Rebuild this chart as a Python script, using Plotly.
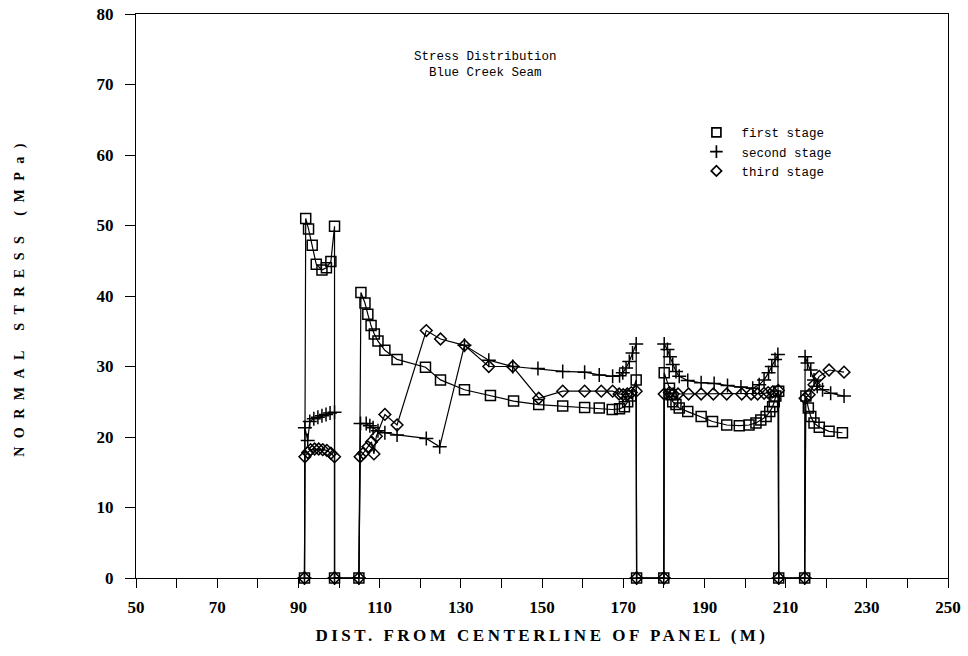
import plotly.graph_objects as go

# ---- data ----
first_x = [91.5, 91.8, 92.5, 93.4, 94.4, 95.8, 96.9, 98.0, 98.9, 98.9,
           104.9, 105.4, 106.4, 107.1, 107.9, 108.7, 109.6, 111.3, 114.3, 121.3, 125.0, 130.9,
           137.3, 143.0, 149.2, 155.1, 160.5, 164.1, 167.3, 169.1, 170.3, 171.1, 171.9, 173.2, 173.3,
           180.0, 180.1, 181.4, 181.8, 182.2, 183.0, 183.8, 185.9, 189.2, 192.0, 195.5, 198.6,
           201.0, 202.7, 203.9, 205.2, 206.1, 206.8, 207.2, 207.6, 208.3, 208.3,
           214.7, 215.0, 215.6, 216.2, 217.0, 218.3, 220.7, 224.0]
first_y = [0, 51.0, 49.5, 47.2, 44.5, 43.7, 44.0, 44.9, 49.9, 0,
           0, 40.5, 39.0, 37.4, 35.8, 34.6, 33.6, 32.3, 31.0, 29.9, 28.1, 26.7,
           25.9, 25.1, 24.6, 24.4, 24.2, 24.1, 23.9, 24.0, 24.3, 25.0, 25.8, 28.1, 0,
           0, 29.1, 26.9, 26.0, 25.0, 24.6, 24.1, 23.6, 22.9, 22.2, 21.7, 21.6,
           21.7, 22.0, 22.4, 22.9, 23.6, 24.3, 25.0, 25.8, 26.5, 0,
           0, 25.8, 24.1, 22.9, 22.0, 21.4, 20.8, 20.6]

second_x = [91.5, 91.6, 92.3, 92.8, 93.8, 94.8, 95.8, 96.8, 97.8, 98.9, 98.9,
            104.9, 105.3, 106.7, 107.6, 108.4, 109.6, 111.3, 114.3, 121.5, 124.8, 130.9, 136.9,
            142.8, 149.0, 155.1, 160.5, 164.1, 167.4, 169.1, 169.9, 170.7, 171.5, 172.3, 173.2, 173.3,
            180.0, 180.1, 180.9, 181.5, 182.2, 183.0, 183.8, 185.9, 189.2, 192.4, 195.7, 199.0,
            201.9, 203.5, 204.7, 205.8, 206.6, 207.4, 208.1, 208.3,
            214.7, 214.8, 215.4, 216.2, 217.0, 217.8, 219.1, 221.1, 224.4]
second_y = [0, 21.3, 19.5, 22.2, 22.6, 22.8, 23.0, 23.2, 23.4, 23.5, 0,
            0, 21.9, 21.9, 21.6, 21.3, 20.9, 20.6, 20.3, 19.8, 18.6, 33.0, 30.9,
            30.0, 29.7, 29.3, 29.2, 28.8, 28.6, 28.7, 29.1, 29.8, 30.7, 31.9, 33.2, 0,
            0, 33.2, 32.4, 31.4, 30.3, 29.3, 28.6, 28.0, 27.7, 27.6, 27.3, 27.1,
            26.9, 27.4, 28.1, 29.1, 30.0, 31.0, 31.7, 0,
            0, 31.4, 30.5, 29.5, 28.1, 27.2, 26.7, 26.2, 25.8]

third_x = [91.5, 91.6, 92.3, 93.0, 94.0, 95.0, 96.0, 97.0, 98.0, 98.9, 98.9,
           104.9, 105.2, 106.0, 107.1, 108.0, 108.6, 109.2, 111.3, 114.3, 121.5, 125.0, 130.9,
           136.9, 142.8, 149.2, 155.1, 160.5, 164.6, 167.4, 169.0, 170.0, 171.0, 172.0, 173.2, 173.3,
           180.0, 180.1, 181.4, 182.3, 183.5, 186.1, 189.2, 192.2, 195.5, 199.2, 201.5, 203.1,
           204.7, 205.7, 206.8, 208.2, 208.3,
           214.7, 214.8, 215.8, 217.0, 218.3, 220.7, 224.4]
third_y = [0, 17.2, 17.8, 18.2, 18.3, 18.3, 18.2, 18.1, 17.7, 17.2, 0,
           0, 17.2, 17.7, 18.6, 19.3, 17.6, 20.1, 23.2, 21.7, 35.1, 33.9, 33.0,
           30.0, 30.0, 25.5, 26.5, 26.5, 26.5, 26.5, 26.1, 26.0, 26.1, 26.3, 26.5, 0,
           0, 26.1, 26.3, 26.1, 26.1, 26.1, 26.1, 26.1, 26.1, 26.1, 26.1, 26.1,
           26.2, 26.3, 26.4, 26.6, 0,
           0, 25.5, 26.0, 27.4, 28.6, 29.5, 29.2]

series_names = ["first stage", "second stage", "third stage"]
x_ticks = list(range(50, 251, 20))
x_minor = list(range(60, 250, 20))
y_ticks = list(range(0, 81, 10))

# ---- figure ----
symbols = ["square-open", "cross-thin-open", "diamond-open"]
sizes = [10, 10, 9]
data = [(first_x, first_y), (second_x, second_y), (third_x, third_y)]

fig = go.Figure()
for (xs, ys), sym, sz in zip(data, symbols, sizes):
    fig.add_trace(go.Scatter(
        x=xs, y=ys, mode="lines+markers", showlegend=False, cliponaxis=False,
        line=dict(color="black", width=1.2),
        marker=dict(symbol=sym, size=sz, color="black",
                    line=dict(color="black", width=1.5)),
    ))
for name, sym, sz in zip(series_names, symbols, sizes):
    fig.add_trace(go.Scatter(
        x=[None], y=[None], mode="markers", name=name,
        marker=dict(symbol=sym, size=sz - 1, color="black",
                    line=dict(color="black", width=1.7)),
    ))

axis_common = dict(showline=True, linecolor="black", linewidth=1.2, mirror=True,
                   showgrid=False, zeroline=False, ticks="outside", tickcolor="black",
                   tickwidth=1.2, automargin=False,
                   tickfont=dict(family="Liberation Serif", size=17, color="black", weight="bold"))

fig.update_layout(
    width=968, height=656,
    margin=dict(l=136, r=20, t=14, b=78, autoexpand=False),
    paper_bgcolor="white", plot_bgcolor="white",
    xaxis=dict(range=[50, 250], tickmode="array", tickvals=x_ticks, ticklen=9,
               minor=dict(tickmode="array", tickvals=x_minor, ticks="outside", ticklen=9,
                          tickwidth=1.2, tickcolor="black"),
               ticklabelstandoff=4,
               title=dict(text='<span style="letter-spacing:3.5px">DIST. FROM CENTERLINE OF PANEL (M)</span>',
                          font=dict(family="Liberation Serif", size=17, color="black", weight="bold"),
                          standoff=13),
               **axis_common),
    yaxis=dict(range=[0, 80], tickmode="array", tickvals=y_ticks, ticklen=10,
               ticklabelstandoff=8,
               title=dict(text='<span style="letter-spacing:8.5px">NORMAL STRESS (MPa)</span>',
                          font=dict(family="Liberation Serif", size=14, color="black", weight="bold"),
                          standoff=68),
               **axis_common),
    legend=dict(x=0.684, y=0.816, xanchor="left", yanchor="top", itemwidth=40,
                bgcolor="rgba(0,0,0,0)",
                font=dict(family="Liberation Mono", size=12.5, color="black")),
    annotations=[dict(text="Stress Distribution<br>Blue Creek Seam", xref="paper", yref="paper",
                      x=0.43, y=0.91, xanchor="center", yanchor="middle", showarrow=False,
                      align="center",
                      font=dict(family="Liberation Mono", size=12.5, color="black"))],
)

fig.write_html("out.html")
